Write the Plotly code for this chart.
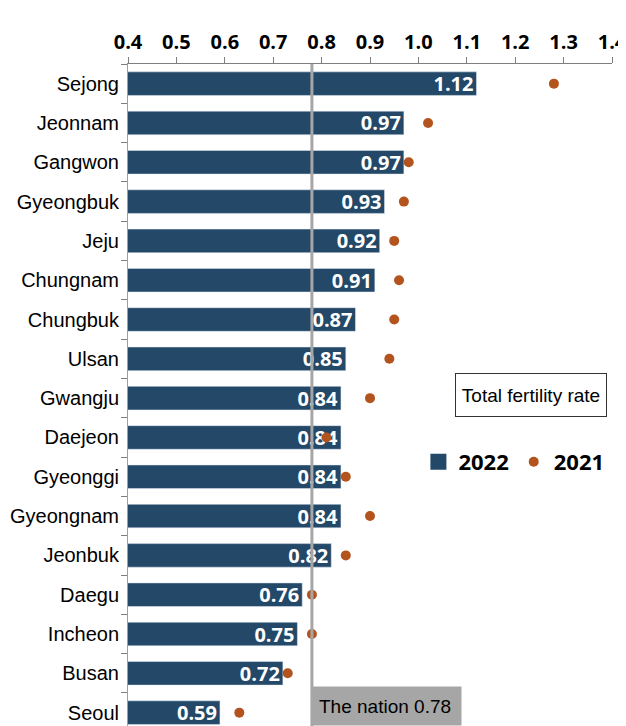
import plotly.graph_objects as go

regions = ['Sejong', 'Jeonnam', 'Gangwon', 'Gyeongbuk', 'Jeju', 'Chungnam', 'Chungbuk', 'Ulsan',
           'Gwangju', 'Daejeon', 'Gyeonggi', 'Gyeongnam', 'Jeonbuk', 'Daegu', 'Incheon', 'Busan', 'Seoul']
tfr_2022 = [1.12, 0.97, 0.97, 0.93, 0.92, 0.91, 0.87, 0.85, 0.84, 0.84, 0.84, 0.84, 0.82, 0.76, 0.75, 0.72, 0.59]
tfr_2021 = [1.28, 1.02, 0.98, 0.97, 0.95, 0.96, 0.95, 0.94, 0.90, 0.81, 0.85, 0.90, 0.85, 0.78, 0.78, 0.73, 0.63]
nation = 0.78
x_ticks = [0.4, 0.5, 0.6, 0.7, 0.8, 0.9, 1.0, 1.1, 1.2, 1.3, 1.4]

BAR_COLOR = '#234868'
DOT_COLOR = '#b3541e'
LINE_GREY = '#a6a6a6'

fig = go.Figure()
fig.add_trace(go.Bar(
    y=regions,
    x=tfr_2022,
    orientation='h',
    name='2022',
    marker_color=BAR_COLOR,
    width=0.6,
    text=[f'{v:.2f}' for v in tfr_2022],
    textposition='inside',
    insidetextanchor='end',
    constraintext='none',
    textfont=dict(family='Open Sans', size=20, color='white', weight='bold'),
    showlegend=False,
))
# legend-only entry so the square swatch can be bigger than the bar default
fig.add_trace(go.Scatter(
    x=[None], y=[None], mode='markers', name='2022',
    marker=dict(color=BAR_COLOR, size=18, symbol='square'),
))
fig.add_trace(go.Scatter(
    y=regions,
    x=tfr_2021,
    mode='markers',
    name='2021',
    marker=dict(color=DOT_COLOR, size=10),
))

# national average line
fig.add_shape(type='line', xref='x', yref='paper', x0=nation, x1=nation, y0=0, y1=1,
              line=dict(color=LINE_GREY, width=3), layer='above')

fig.add_annotation(
    x=nation, xref='x', y=0, yref='paper', xanchor='left', yanchor='bottom',
    text=f'The nation {nation}', showarrow=False, align='left',
    bgcolor=LINE_GREY, borderpad=6, width=136, height=26,
    font=dict(family='Liberation Sans', size=19, color='black'),
)
fig.add_annotation(
    x=0.676, xref='paper', y=0.533, yref='paper', xanchor='left', yanchor='top',
    text='Total fertility rate', showarrow=False,
    bordercolor='#333333', borderwidth=1, borderpad=4, width=142, height=34,
    font=dict(family='Liberation Sans', size=19, color='black'),
)

# page body adds an 8px offset, so the figure is 8px smaller than the window
fig.update_layout(
    width=618, height=718,
    margin=dict(l=120, r=14, t=56, b=0, autoexpand=False),
    plot_bgcolor='white',
    paper_bgcolor='white',
    showlegend=True,
    legend=dict(
        orientation='h', x=0.6, y=0.399, xanchor='left', yanchor='middle',
        font=dict(family='Open Sans', size=22, color='black', weight='bold'),
        traceorder='normal', bgcolor='rgba(0,0,0,0)',
    ),
)
fig.update_xaxes(
    side='top',
    range=[0.4, 1.4],
    tickvals=x_ticks,
    ticktext=[f'{t:.1f}' for t in x_ticks],
    ticks='outside', ticklen=6, tickcolor='#7f7f7f',
    showline=True, linecolor='#7f7f7f', linewidth=1,
    showgrid=False, zeroline=False, automargin=False,
    ticklabeloverflow='allow',
    tickfont=dict(family='Open Sans', size=20, color='black', weight='bold'),
)
fig.update_yaxes(
    categoryorder='array', categoryarray=regions,
    range=[16.34, -0.5],
    ticks='outside', ticklen=6, tickcolor='#7f7f7f', tickson='boundaries',
    ticklabelstandoff=4,
    showline=True, linecolor='#9f9f9f', linewidth=1,
    showgrid=False, zeroline=False, automargin=False,
    tickfont=dict(family='Liberation Sans', size=20, color='black'),
)

fig.write_html('out.html')
